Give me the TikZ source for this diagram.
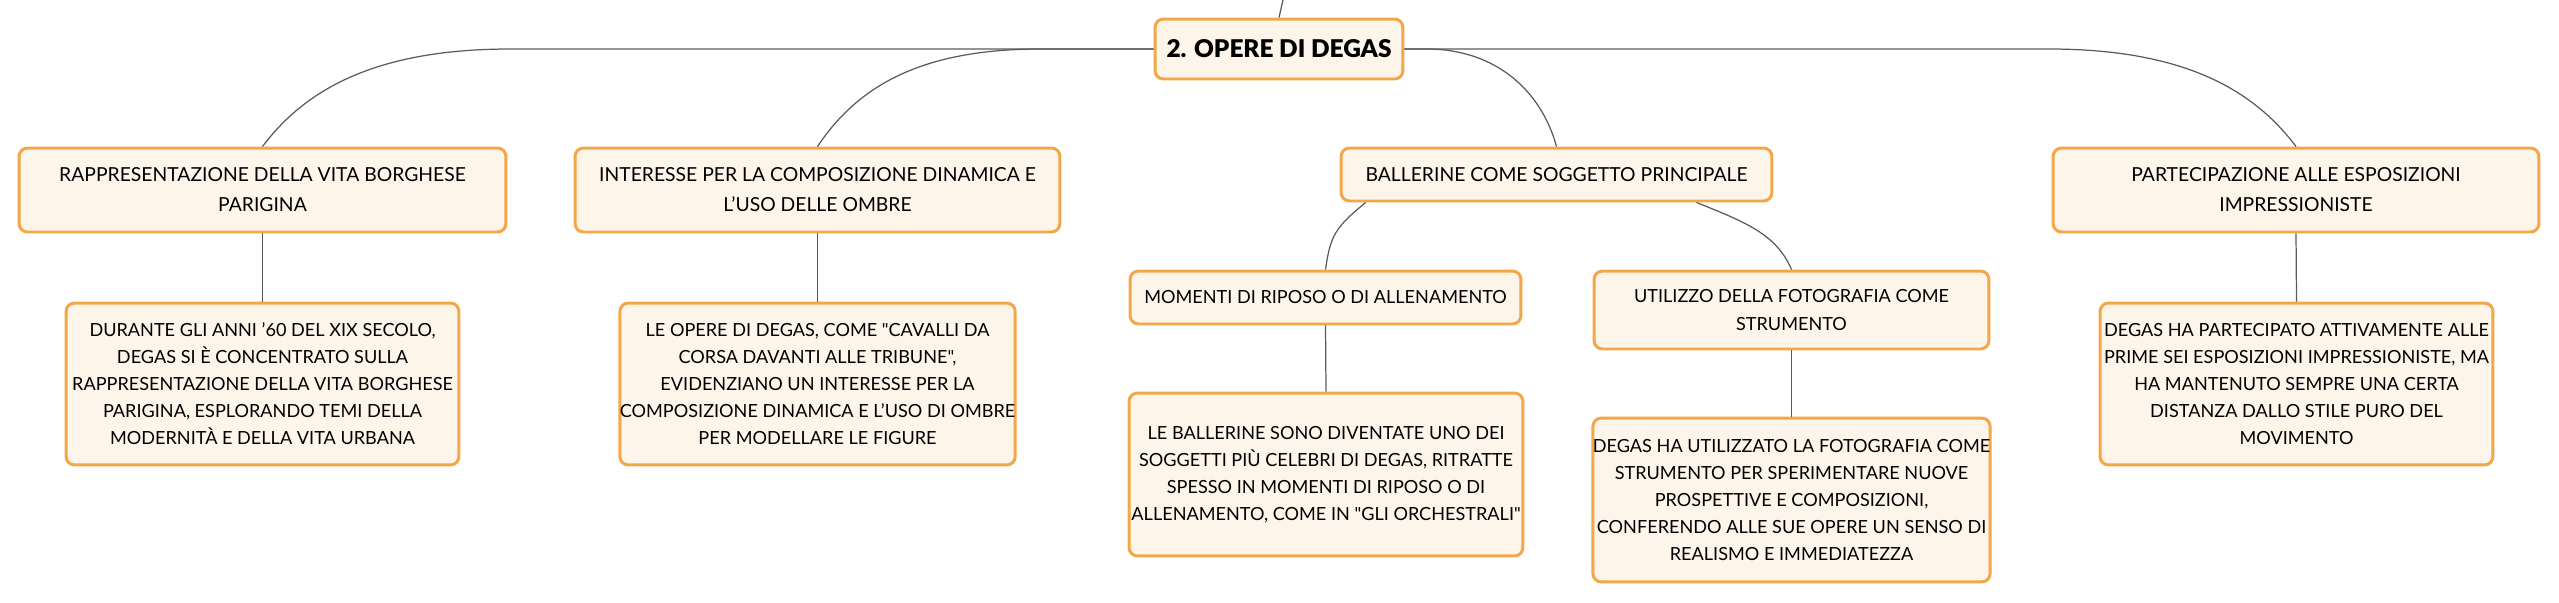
\documentclass[tikz,border=0pt]{standalone}
\usepackage{fontspec}
\setmainfont{Lato}[Ligatures=TeXOff]
\newfontfamily\heavyfont{Lato Black}[Ligatures=TeXOff]
\usetikzlibrary{positioning}
\definecolor{boxline}{HTML}{F4A748}
\definecolor{boxfill}{HTML}{FDF4EA}
\definecolor{wire}{HTML}{5A5A5A}
\tikzset{
  card/.style={draw=boxline, fill=boxfill, line width=1.7pt, rounded corners=0.17cm,
    align=center, inner sep=0pt, text=black},
  topic/.style={card, font=\fontsize{11}{17}\selectfont},
  note/.style={card, minimum width=7.86cm, minimum height=3.24cm, font=\fontsize{10.3}{15.4}\selectfont},
  link/.style={draw=wire, line width=0.7pt}
}
\begin{document}
\begin{tikzpicture}[x=0.02cm, y=-0.02cm]
\useasboundingbox (0,0) rectangle (2559,602);

\node[card, minimum width=4.96cm, minimum height=1.2cm, font=\fontsize{13.9}{17}\heavyfont] (root) at (1279,49) {2. OPERE DI DEGAS};
\coordinate (up) at (1283,0);

\node[topic, minimum width=9.74cm, minimum height=1.68cm] (vita) at (262.5,190) {RAPPRESENTAZIONE DELLA VITA BORGHESE\\PARIGINA};
\node[topic, minimum width=9.7cm, minimum height=1.68cm] (comp) at (817.5,190) {INTERESSE PER LA COMPOSIZIONE DINAMICA E\\L’USO DELLE OMBRE};
\node[topic, minimum width=8.62cm, minimum height=1.06cm] (ball) at (1556.5,174.5) {BALLERINE COME SOGGETTO PRINCIPALE};
\node[topic, minimum width=9.72cm, minimum height=1.68cm] (espo) at (2296,190) {PARTECIPAZIONE ALLE ESPOSIZIONI\\IMPRESSIONISTE};

\node[note] (vitanote) at (262.5,384) {DURANTE GLI ANNI ’60 DEL XIX SECOLO,\\DEGAS SI È CONCENTRATO SULLA\\RAPPRESENTAZIONE DELLA VITA BORGHESE\\PARIGINA, ESPLORANDO TEMI DELLA\\MODERNITÀ E DELLA VITA URBANA};
\node[note] (compnote) at (817.5,384) {LE OPERE DI DEGAS, COME "CAVALLI DA\\CORSA DAVANTI ALLE TRIBUNE",\\EVIDENZIANO UN INTERESSE PER LA\\COMPOSIZIONE DINAMICA E L’USO DI OMBRE\\PER MODELLARE LE FIGURE};
\node[note] (esponote) at (2296.5,384) {DEGAS HA PARTECIPATO ATTIVAMENTE ALLE\\PRIME SEI ESPOSIZIONI IMPRESSIONISTE, MA\\HA MANTENUTO SEMPRE UNA CERTA\\DISTANZA DALLO STILE PURO DEL\\MOVIMENTO};

\node[topic, font=\fontsize{10.3}{15.4}\selectfont, minimum width=7.82cm, minimum height=1.06cm] (riposo) at (1325.5,297.5) {MOMENTI DI RIPOSO O DI ALLENAMENTO};
\node[topic, font=\fontsize{10.3}{15.4}\selectfont, minimum width=7.9cm, minimum height=1.56cm] (foto) at (1791.5,310) {UTILIZZO DELLA FOTOGRAFIA COME\\STRUMENTO};
\node[note, minimum width=7.88cm, minimum height=3.26cm] (riposonote) at (1326,474.5) {LE BALLERINE SONO DIVENTATE UNO DEI\\SOGGETTI PIÙ CELEBRI DI DEGAS, RITRATTE\\SPESSO IN MOMENTI DI RIPOSO O DI\\ALLENAMENTO, COME IN "GLI ORCHESTRALI"};
\node[note, minimum width=7.9cm, minimum height=3.28cm] (fotonote) at (1791.5,500) {DEGAS HA UTILIZZATO LA FOTOGRAFIA COME\\STRUMENTO PER SPERIMENTARE NUOVE\\PROSPETTIVE E COMPOSIZIONI,\\CONFERENDO ALLE SUE OPERE UN SENSO DI\\REALISMO E IMMEDIATEZZA};

\draw[link] (root.north) -- (up);
\draw[link] (root.west) -- ++(-643,0) .. controls +(-130,0) and +(45,-60) .. (vita.north);
\draw[link] (root.west) -- ++(-113,0) .. controls +(-120,0) and +(40,-60) .. (comp.north);
\draw[link] (root.east) -- ++(22,0) .. controls +(70,0) and +(-15,-55) .. (ball.north);
\draw[link] (root.east) -- ++(644,0) .. controls +(130,0) and +(-45,-60) .. (espo.north);

\draw[link] ([xshift=0.52cm]ball.south west) .. controls +(-30,25) and +(5,-35) .. (riposo.north);
\draw[link] ([xshift=-1.54cm]ball.south east) .. controls +(50,20) and +(-15,-35) .. (foto.north);

\draw[link] (vita.south) -- (vitanote.north);
\draw[link] (comp.south) -- (compnote.north);
\draw[link] (espo.south) -- (esponote.north);
\draw[link] (riposo.south) -- (riposonote.north);
\draw[link] (foto.south) -- (fotonote.north);
\end{tikzpicture}
\end{document}
